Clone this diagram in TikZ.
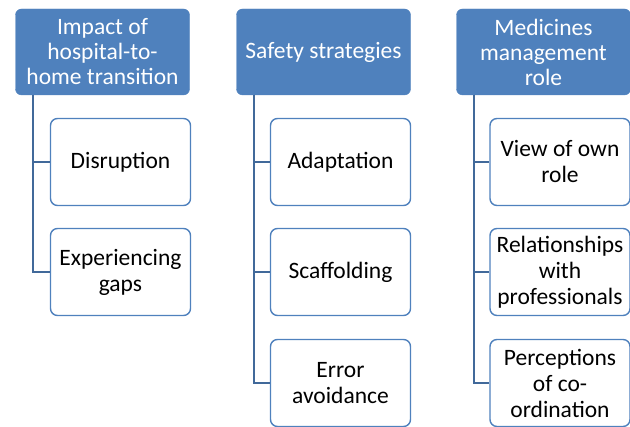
\documentclass[tikz,border=0pt]{standalone}
\usepackage{fontspec}
\setmainfont{Carlito}
\definecolor{hdblue}{HTML}{4F81BD}
\definecolor{lnblue}{HTML}{41699A}
\tikzset{
    head/.style={rectangle, rounded corners=6pt, fill=hdblue, draw=hdblue, text=white,
        minimum width=174pt, minimum height=86pt, align=center,
        font=\fontsize{23.5}{25}\selectfont, inner sep=0pt},
    leaf/.style={rectangle, rounded corners=7pt, fill=white, draw=hdblue, line width=1.4pt,
        minimum width=140pt, minimum height=87pt, align=center,
        font=\fontsize{23.5}{26}\selectfont, inner sep=0pt},
    conn/.style={draw=lnblue, line width=1.6pt}
}
\begin{document}
\begin{tikzpicture}[x=1pt, y=-1pt]
    \useasboundingbox (0,0) rectangle (630,427);
    %% headers
    \node[head] at (102.5,52) (h1) {Impact of\\hospital-to-\\home transition};
    \node[head] at (323.5,52) (h2) {Safety strategies};
    \node[head] at (543.5,52) (h3) {Medicines\\management\\role};
    \coordinate (t1) at (33,95); \coordinate (t2) at (254,95); \coordinate (t3) at (474,95);
    % first column
    \node[leaf] at (120.5,162) (d1) {Disruption};
    \node[leaf] at (120.5,272) (d2) {Experiencing\\gaps};
    \draw[conn] (t1) |- (d1.west); \draw[conn] (t1) |- (d2.west);
    % second column
    \node[leaf] at (340.5,162) (s1) {Adaptation};
    \node[leaf] at (340.5,272) (s2) {Scaffolding};
    \node[leaf] at (340.5,383) (s3) {Error\\avoidance};
    \draw[conn] (t2) |- (s1.west); \draw[conn] (t2) |- (s2.west); \draw[conn] (t2) |- (s3.west);
    % third column
    \node[leaf] at (560,162) (m1) {View of own\\role};
    \node[leaf] at (560,272) (m2) {Relationships\\with\\professionals};
    \node[leaf] at (560,383) (m3) {Perceptions\\of co-\\ordination};
    \draw[conn] (t3) |- (m1.west); \draw[conn] (t3) |- (m2.west); \draw[conn] (t3) |- (m3.west);
\end{tikzpicture}
\end{document}
